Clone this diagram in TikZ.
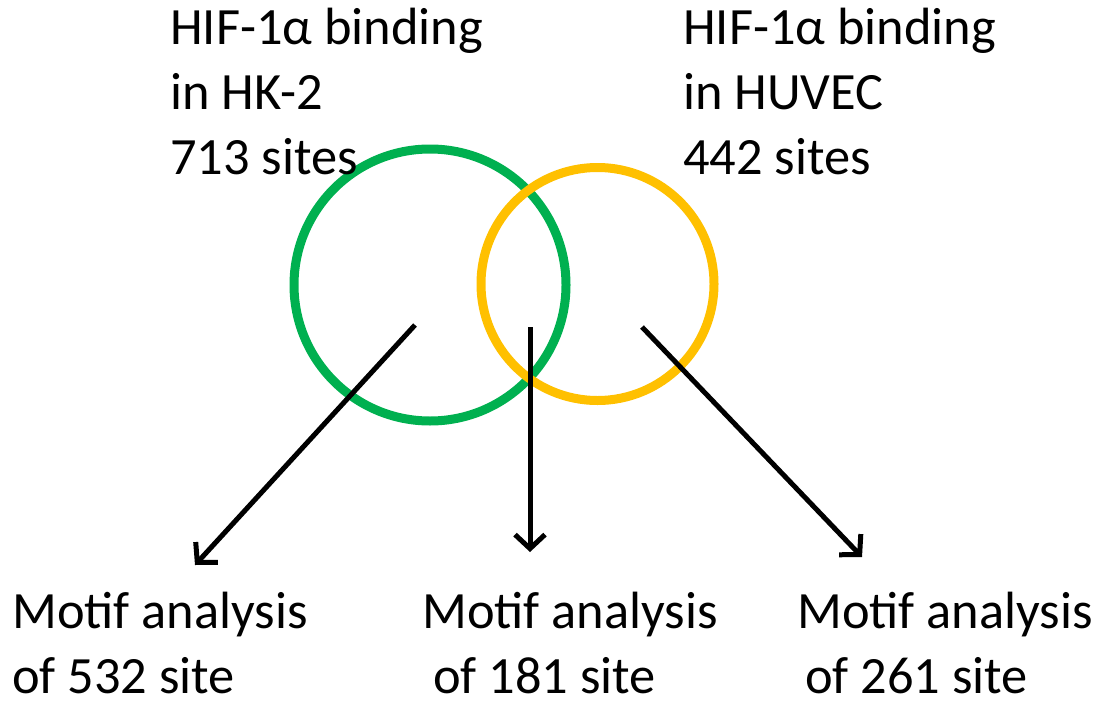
\documentclass[tikz,border=0pt]{standalone}
\usepackage{fontspec}
\setmainfont{Carlito}
\usetikzlibrary{arrows.meta}
\begin{document}
\begin{tikzpicture}[x=1pt,y=-1pt,
  lbl/.style={inner sep=0pt, anchor=base west, align=left, font=\fontsize{52.4}{65}\selectfont},
  ring/.style={circle, draw, line width=9pt, minimum size=#1, inner sep=0pt},
  arr/.style={line width=5pt, -{Straight Barb[length=14pt,width=30pt,line width=5pt]}}]
\useasboundingbox (0,0) rectangle (1095,704);
\node[ring=272pt, draw={rgb,255:red,0;green,176;blue,80}] (hk) at (430,285) {};
\node[ring=233pt, draw={rgb,255:red,255;green,192;blue,0}] (hu) at (597.5,284) {};
\node[lbl] (hkl) at (170,174) {HIF-1α binding\\in HK-2\\713 sites};
\node[lbl] (hul) at (683,174) {HIF-1α binding\\in HUVEC\\442 sites};
\node[lbl] (m1) at (12,693) {Motif analysis\\of 532 site};
\node[lbl] (m2) at (422,693) {Motif analysis\\\hspace*{11pt}of 181 site};
\node[lbl] (m3) at (797,693) {Motif analysis\\\hspace*{8pt}of 261 site};
\coordinate (s1) at (415,325); \coordinate (e1) at (195,565);
\coordinate (s2) at (530,327); \coordinate (e2) at (530,552);
\coordinate (s3) at (642,327); \coordinate (e3) at (862,557);
\draw[arr] (s1) -- (e1);
\draw[arr] (s2) -- (e2);
\draw[arr] (s3) -- (e3);
\end{tikzpicture}
\end{document}
